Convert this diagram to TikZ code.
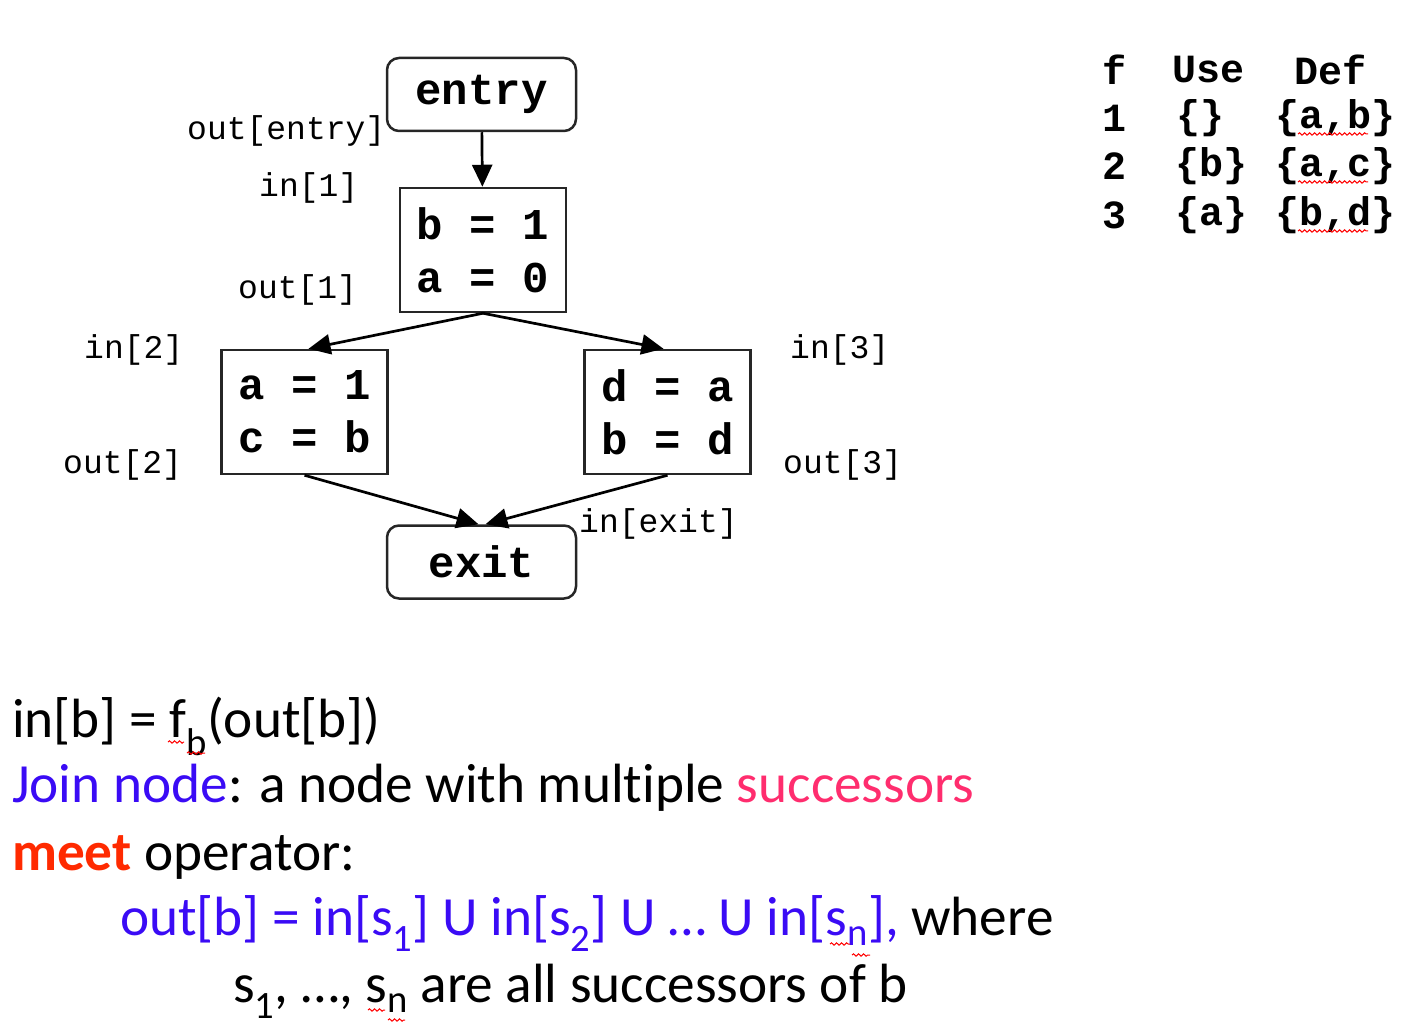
\documentclass[tikz,border=0pt]{standalone}
\usepackage{fontspec}
\setmainfont{Carlito}[Ligatures=NoCommon]
\setmonofont{Liberation Mono}
\usetikzlibrary{arrows.meta,decorations.pathmorphing}
\definecolor{jblue}{HTML}{3A0BF5}
\definecolor{jpink}{HTML}{FF2D6E}
\definecolor{jred}{HTML}{FF2A00}
\tikzset{
 cfgbox/.style={draw=black!85, line width=2.5pt, minimum width=166pt, minimum height=124pt, inner sep=0pt, align=center, font=\ttfamily\bfseries\fontsize{44}{53}\selectfont},
 termbox/.style={draw=black!85, line width=2.5pt, rounded corners=12pt, minimum width=189pt, minimum height=73pt, inner sep=0pt, font=\ttfamily\bfseries\fontsize{44}{52}\selectfont},
 flowlbl/.style={anchor=west, inner sep=0pt, font=\ttfamily\fontsize{33}{38}\selectfont},
 tbl/.style={anchor=west, inner sep=0pt, font=\ttfamily\bfseries\fontsize{40}{48}\selectfont},
 flow/.style={line width=2.7pt, -{Triangle[length=22pt,width=20pt]}},
 txt/.style={anchor=base west, inner sep=0pt, font=\fontsize{55.3}{66}\selectfont},
 squig/.style={draw=red, line width=1pt, decorate, decoration={snake, amplitude=1.2pt, segment length=5pt}},
}
\begin{document}
\begin{tikzpicture}[x=1pt,y=-1pt]
\useasboundingbox (0,0) rectangle (1424,1024);
% flow graph
\node[termbox] (entry) at (481.5,94.5) {\raisebox{-3pt}{entry}};
\node[cfgbox] (b1) at (483,250) {b = 1\\a = 0};
\node[cfgbox] (b2) at (304.5,412) {a = 1\\c = b};
\node[cfgbox] (b3) at (667.5,412) {d = a\\b = d};
\node[termbox] (exit) at (481.5,562) {\raisebox{-2pt}{exit}};
\draw[flow] (entry) -- (b1);
\draw[flow] (b1.south) -- ([xshift=4pt]b2.north);
\draw[flow] (b1.south) -- ([xshift=-4pt]b3.north);
\draw[flow] (b2.south) -- ([xshift=-3pt]exit.north);
\draw[flow] (b3.south) -- ([xshift=4pt]exit.north);
% labels
\node[flowlbl] (loe) at (187,131) {out[entry]};
\node[flowlbl] (li1) at (259,188) {in[1]};
\node[flowlbl] (lo1) at (238,290) {out[1]};
\node[flowlbl] (li2) at (84,350) {in[2]};
\node[flowlbl] (lo2) at (63,465) {out[2]};
\node[flowlbl] (li3) at (790,350) {in[3]};
\node[flowlbl] (lo3) at (783,465) {out[3]};
\node[flowlbl] (lix) at (579,524) {in[exit]};
% table
\node[tbl] (th1) at (1102,70) {f};
\node[tbl] (th2) at (1172,70) {Use};
\node[tbl] (th3) at (1294,70) {Def};
\node[tbl] (r1a) at (1102,118) {1};
\node[tbl] (r1b) at (1176,118) {\{\}};
\node[tbl] (r1c) at (1275,118) {\{a,b\}};
\node[tbl] (r2a) at (1102,166) {2};
\node[tbl] (r2b) at (1175,166) {\{b\}};
\node[tbl] (r2c) at (1275,166) {\{a,c\}};
\node[tbl] (r3a) at (1102,215) {3};
\node[tbl] (r3b) at (1175,215) {\{a\}};
\node[tbl] (r3c) at (1275,215) {\{b,d\}};
\draw[squig] (1298,134) -- (1368,134);
\draw[squig] (1298,182) -- (1368,182);
\draw[squig] (1298,231) -- (1368,231);
% text
\node[txt] (t1) at (12,737) {in[b] = f\textsubscript{b}(out[b])};
\node[txt] (t2) at (12,802) {{\color{jblue}Join node}: a node with multiple {\color{jpink}successors}};
\node[txt] (t3) at (12,870) {{\color{jred}\bfseries meet} operator:};
\node[txt] (t4) at (120,935) {{\color{jblue}out[b] = in[s\textsubscript{1}] U in[s\textsubscript{2}] U … U in[s\textsubscript{n}],} where};
\node[txt] (t5) at (233,1002) {s\textsubscript{1}, …, s\textsubscript{n} are all successors of b};
\draw[squig] (168,742) -- (184,742);
\draw[squig] (187,753) -- (205,753);
\draw[squig] (830,944) -- (850,944);
\draw[squig] (852,955) -- (870,955);
\draw[squig] (368,1010) -- (385,1010);
\draw[squig] (388,1020) -- (405,1020);
\end{tikzpicture}
\end{document}
